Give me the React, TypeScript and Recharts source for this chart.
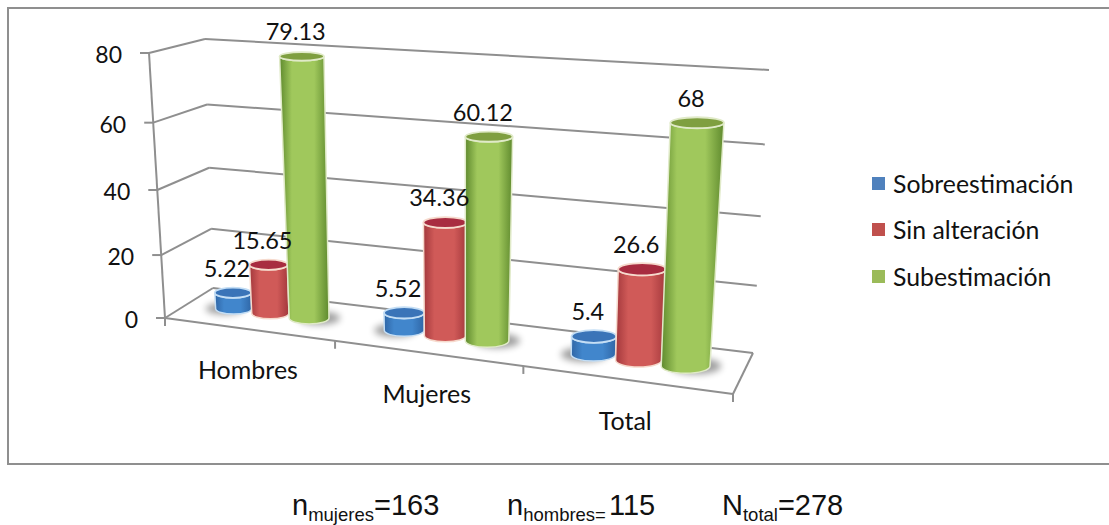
import React from "react";
import { ComposedChart, Bar, Line, XAxis, YAxis, CartesianGrid, Legend } from "recharts";

const grupos = ["Hombres", "Mujeres", "Total"];
const sobreestimacion = [5.22, 5.52, 5.4];
const sinAlteracion = [15.65, 34.36, 26.6];
const subestimacion = [79.13, 60.12, 68];
const valorTicks = [0, 20, 40, 60, 80];

const filas = grupos.map((grupo, i) => ({
  grupo,
  sobreestimacion: sobreestimacion[i],
  sinAlteracion: sinAlteracion[i],
  subestimacion: subestimacion[i],
}));

const WIDTH = 1109;
const HEIGHT = 525;

// Flat plot rectangle used by the scales; every mark is then projected into the 3D box.
const PLOT = { left: 165, top: 53, right: 733, bottom: 318 };
const PLOT_W = PLOT.right - PLOT.left;
const PLOT_H = PLOT.bottom - PLOT.top;
const LEGEND_W = 230;
const BAR_STEP = 42;

type Pt = { x: number; y: number };

// Corners of the box on screen: front/back, floor/ceiling, left/right.
const BOX = {
  f0l: { x: 165, y: 318 },
  f0r: { x: 733, y: 394 },
  b0l: { x: 213, y: 288 },
  b0r: { x: 753, y: 353 },
  f1l: { x: 149, y: 53 },
  f1r: { x: 755, y: 91 },
  b1l: { x: 205, y: 39 },
  b1r: { x: 769, y: 70 },
};

const mix = (a: Pt, b: Pt, t: number): Pt => ({ x: a.x + (b.x - a.x) * t, y: a.y + (b.y - a.y) * t });
const foreshorten = (t: number, k: number) => t / (t + (1 - t) * k);

// Perspective projection of (along axis, depth, height), each in 0..1.
function project(u: number, d: number, v: number): Pt {
  const U = foreshorten(u, 1.17);
  const V = foreshorten(v, 1.07);
  const floorFront = mix(BOX.f0l, BOX.f0r, U);
  const floorBack = mix(BOX.b0l, BOX.b0r, U);
  const topFront = mix(BOX.f1l, BOX.f1r, U);
  const topBack = mix(BOX.b1l, BOX.b1r, U);
  return mix(mix(floorFront, floorBack, d), mix(topFront, topBack, d), V);
}
const toU = (x: number) => (x - PLOT.left) / PLOT_W;
const toV = (y: number) => (PLOT.bottom - y) / PLOT_H;

const GRIS = "#8f8f8f";
const FONT = "Lato, sans-serif";

const line = (a: Pt, b: Pt, key: string) => (
  <line key={key} x1={a.x} y1={a.y} x2={b.x} y2={b.y} stroke={GRIS} strokeWidth={2} />
);

// One wall line per value tick; the zero tick also draws the floor and the value axis.
function GridLevel(props: any) {
  const v = toV(props.y1);
  const fl = project(0, 0, v);
  const bl = project(0, 1, v);
  const br = project(1, 1, v);
  const parts = [line(fl, bl, "a"), line(bl, br, "b")];
  if (v < 0.001) {
    parts.push(line(fl, project(1, 0, 0), "c"), line(project(1, 0, 0), br, "d"));
    parts.push(line(fl, project(0, 0, 1), "e"));
    grupos.forEach((_, i) => {
      const p = project((i + 1) / grupos.length, 0, 0);
      parts.push(line(p, { x: p.x, y: p.y + 8 }, `t${i}`));
    });
    const o = project(0, 0, 0);
    parts.push(line(o, { x: o.x, y: o.y + 8 }, "t"));
  }
  return <g key={`nivel-${props.index}`}>{parts}</g>;
}

function ValueTick(props: any) {
  const p = project(0, 0, toV(props.y));
  return (
    <g>
      <line x1={p.x - 9} y1={p.y} x2={p.x} y2={p.y} stroke={GRIS} strokeWidth={2} />
      <text x={p.x - 27} y={p.y + 1} textAnchor="end" dominantBaseline="central" fontFamily={FONT} fontSize={23} fill="#111">
        {props.payload.value}
      </text>
    </g>
  );
}

function CategoryTick(props: any) {
  const p = project(toU(props.x), 0, 0);
  return (
    <text x={p.x} y={p.y + 40} textAnchor="middle" dominantBaseline="central" fontFamily={FONT} fontSize={25} fill="#111">
      {props.payload.value}
    </text>
  );
}

type Tone = { edge: string; mid: string; rim: string; inner: string };
const TONOS: Record<string, Tone> = {
  sobreestimacion: { edge: "#2f66a6", mid: "#4186cc", rim: "#c4def5", inner: "#3a74b8" },
  sinAlteracion: { edge: "#a3383c", mid: "#d05a58", rim: "#f6dacd", inner: "#a82c40" },
  subestimacion: { edge: "#5f8a2e", mid: "#a0c85c", rim: "#e0eac8", inner: "#7f9f40" },
};
const SOMBRA: Record<string, number> = { sobreestimacion: -9, sinAlteracion: 0, subestimacion: 10 };

// Cylinder built from the bar rectangle the library computed; taller columns flare towards the viewer.
function Cylinder(props: any) {
  const { x, y, width, height, dataKey, index } = props;
  const t = TONOS[dataKey];
  const v = toV(y);
  const uL = toU(x);
  const uR = toU(x + width);
  const uC = toU(x + width / 2);
  const bottom = y + height;
  const v0 = toV(bottom);
  const tl = project(uL, 0.5, v);
  const tr = project(uR, 0.5, v);
  const bl = project(uL, 0.5, v0);
  const br = project(uR, 0.5, v0);
  const top = project(uC, 0.5, v);
  const base = project(uC, 0.5, v0);
  const hwT = ((tr.x - tl.x) / 2) * (1 + 0.12 * v);
  const hwB = ((br.x - bl.x) / 2) * (1 + 0.06 * v);
  const ryT = hwT * (0.29 - 0.1 * v);
  const ryB = hwB * 0.3;
  const cxT = (tl.x + tr.x) / 2;
  const cxB = (bl.x + br.x) / 2 + 2 * v;
  const id = `cil-${dataKey}-${index}`;
  const body = [
    `M${cxT - hwT},${top.y}`,
    `L${cxB - hwB},${base.y}`,
    `A${hwB},${ryB} 0 0 0 ${cxB + hwB},${base.y}`,
    `L${cxT + hwT},${top.y}`,
    `A${hwT},${ryT} 0 0 1 ${cxT - hwT},${top.y}`,
    "Z",
  ].join(" ");
  return (
    <g>
      <defs>
        <linearGradient id={id} x1="0" x2="1" y1="0" y2="0">
          <stop offset="0" stopColor={t.edge} />
          <stop offset="0.25" stopColor={t.mid} />
          <stop offset="0.7" stopColor={t.mid} />
          <stop offset="1" stopColor={t.edge} />
        </linearGradient>
        <filter id={`${id}-s`} x="-50%" y="-100%" width="200%" height="300%">
          <feGaussianBlur stdDeviation="3.5" />
        </filter>
      </defs>
      {SOMBRA[dataKey] !== 0 && (
        <ellipse
          cx={cxB + SOMBRA[dataKey]}
          cy={base.y}
          rx={hwB * 1.05}
          ry={ryB * 1.1}
          fill="#000"
          opacity={0.38}
          filter={`url(#${id}-s)`}
        />
      )}
      <path d={body} fill={`url(#${id})`} stroke={t.rim} strokeWidth={1.5} />
      <ellipse cx={cxT} cy={top.y} rx={hwT} ry={ryT} fill={t.inner} stroke={t.rim} strokeWidth={1.8} />
    </g>
  );
}

// Value labels are drawn by helper lines after all columns, so no column covers them.
const labelFor = (serie: number) => (props: any) => {
  const u = toU(props.x + (serie - 1) * BAR_STEP);
  const p = project(u, 0.5, toV(props.y));
  return (
    <text
      key={`valor-${serie}-${props.index}`}
      x={p.x - 6}
      y={p.y - 25}
      textAnchor="middle"
      dominantBaseline="central"
      fontFamily={FONT}
      fontSize={23.5}
      fill="#111"
    >
      {props.value}
    </text>
  );
};

const LEGEND_ROWS = 46.5;
function LegendContent(props: any) {
  const items = (props.payload || []).filter((it: any) => it.type !== "none");
  return (
    <div style={{ position: "relative", width: LEGEND_W, height: 140 }}>
      {items.map((it: any, i: number) => (
        <div key={it.value} style={{ position: "absolute", left: 0, top: i * LEGEND_ROWS, height: 30, display: "flex", alignItems: "center" }}>
          <span style={{ width: 13, height: 13, background: it.color, display: "inline-block", marginRight: 8 }} />
          <span style={{ fontFamily: FONT, fontSize: 24.8, color: "#111", whiteSpace: "nowrap" }}>{it.value}</span>
        </div>
      ))}
    </div>
  );
}

const notaBase: React.CSSProperties = {
  position: "absolute",
  top: 487,
  fontFamily: "'Liberation Sans', sans-serif",
  fontSize: 29,
  color: "#111",
  whiteSpace: "nowrap",
  lineHeight: "36px",
};
const sub: React.CSSProperties = { fontSize: 18.5, verticalAlign: -6 };

export default function App() {
  return (
    <div style={{ position: "absolute", left: 0, top: 0, width: WIDTH, height: HEIGHT, background: "#fff", overflow: "hidden" }}>
      <div style={{ position: "absolute", left: 7, top: 7, width: 1102, height: 454, border: "2px solid #8f8f8f", borderRight: "none" }} />
      <ComposedChart
        width={WIDTH}
        height={HEIGHT}
        data={filas}
        barCategoryGap="16.7%"
        barGap={0}
        margin={{ left: PLOT.left - 60, top: PLOT.top, right: WIDTH - PLOT.right - LEGEND_W, bottom: HEIGHT - PLOT.bottom - 30 }}
        style={{ position: "absolute", left: 0, top: 0 }}
      >
        <CartesianGrid vertical={false} horizontal={GridLevel as any} />
        <XAxis dataKey="grupo" height={30} tick={CategoryTick as any} tickLine={false} axisLine={false} interval={0} />
        <YAxis width={60} domain={[0, 80]} ticks={valorTicks} tick={ValueTick as any} tickLine={false} axisLine={false} interval={0} />
        <Legend
          layout="vertical"
          align="right"
          verticalAlign="middle"
          width={LEGEND_W}
          itemSorter={null as any}
          content={LegendContent as any}
          wrapperStyle={{ left: 872, top: 168, width: LEGEND_W }}
        />
        <Bar dataKey="sobreestimacion" name="Sobreestimación" fill="#4F81BD" shape={Cylinder as any} isAnimationActive={false} />
        <Bar dataKey="sinAlteracion" name="Sin alteración" fill="#C0504D" shape={Cylinder as any} isAnimationActive={false} />
        <Bar dataKey="subestimacion" name="Subestimación" fill="#9BBB59" shape={Cylinder as any} isAnimationActive={false} />
        <Line dataKey="sobreestimacion" legendType="none" stroke="none" dot={false} activeDot={false} label={labelFor(0) as any} isAnimationActive={false} />
        <Line dataKey="sinAlteracion" legendType="none" stroke="none" dot={false} activeDot={false} label={labelFor(1) as any} isAnimationActive={false} />
        <Line dataKey="subestimacion" legendType="none" stroke="none" dot={false} activeDot={false} label={labelFor(2) as any} isAnimationActive={false} />
      </ComposedChart>
      <div style={{ ...notaBase, left: 292 }}>n<span style={sub}>mujeres</span>=163</div>
      <div style={{ ...notaBase, left: 507 }}>n<span style={sub}>hombres=</span><span style={{ marginLeft: 3 }}>115</span></div>
      <div style={{ ...notaBase, left: 722 }}>N<span style={sub}>total</span>=278</div>
    </div>
  );
}
